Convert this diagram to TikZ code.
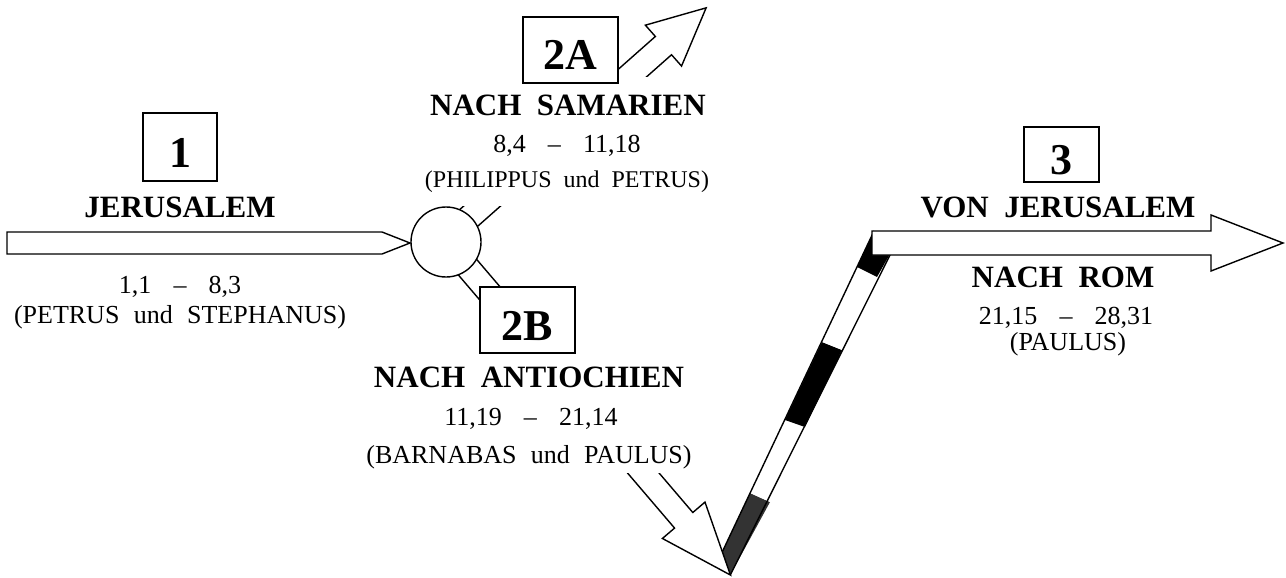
\documentclass[tikz,border=0pt]{standalone}
\usepackage{fontspec}
\setmainfont{Liberation Serif}
\newcommand\placefont{\fontsize{31}{31}\selectfont\bfseries\spaceskip=.5em\relax}
\newcommand\versefont{\fontsize{26}{26}\selectfont\spaceskip=.55em\relax}
\newcommand\smallversefont{\fontsize{24}{24}\selectfont\spaceskip=.5em\relax}
\newcommand\rangefont{\fontsize{26}{26}\selectfont\spaceskip=.85em\relax}
\newcommand\boxfont{\fontsize{44}{44}\selectfont\bfseries}
\begin{document}
\begin{tikzpicture}[x=1pt,y=-1pt,
  outline/.style={draw=black, line width=1.4pt, line join=miter, fill=white},
  numbox/.style={draw=black, line width=1.4pt, fill=white, inner sep=0pt,
    font=\boxfont, text height=40pt, text depth=0pt},
  placename/.style={anchor=base, inner sep=0pt, font=\placefont},
  versetext/.style={anchor=base, inner sep=0pt, font=\versefont},
  rangetext/.style={anchor=base, inner sep=0pt, font=\rangefont},
  edge/.style={line width=1.4pt},
]
\useasboundingbox (0,0) rectangle (1286,578);

% striped band of the journey up to the road to Rome
\coordinate (Lb) at (722.3,551.8);
\coordinate (L1) at (750,493);
\coordinate (L2) at (785,420);
\coordinate (L3) at (822,342);
\coordinate (L4) at (857,267);
\coordinate (Lt) at (874,231);
\coordinate (Rb) at (730.3,575);
\coordinate (R1) at (770,502);
\coordinate (R2) at (805,427);
\coordinate (R3) at (842,350);
\coordinate (R4) at (877,277);
\coordinate (Rt) at (895,245);
\fill[black!80] (Lb) -- (Rb) -- (R1) -- (L1) -- cycle;
\fill[white] (L1) -- (R1) -- (R2) -- (L2) -- cycle;
\fill[black] (L2) -- (R2) -- (R3) -- (L3) -- cycle;
\fill[white] (L3) -- (R3) -- (R4) -- (L4) -- cycle;
\fill[black] (L4) -- (R4) -- (Rt) -- (Lt) -- cycle;
\draw[edge] (Lb) -- (Lt) (Rb) -- (Rt);

% branch 2B, towards Antioch
\begin{scope}[shift={(446,242)}, rotate=-49.5]
  \draw[outline] (0,-12) -- (366,-12) -- (366,-28) -- (438,0) -- (366,28)
    -- (366,12) -- (0,12) -- cycle;
\end{scope}

% branch 2A, towards Samaria
\begin{scope}[shift={(446,242)}, rotate=41.5]
  \draw[outline] (0,-15.2) -- (293,-15.2) -- (293,-30.3) -- (350,-3)
    -- (293,24.3) -- (293,9.2) -- (0,9.2) -- cycle;
\end{scope}

% stage 1: Jerusalem
\draw[outline] (7,232) -- (382,232) -- (410,243) -- (382,254) -- (7,254) -- cycle;

% stage 3: from Jerusalem to Rome
\draw[outline] (872,231) -- (1211,231) -- (1211,215) -- (1283,243)
  -- (1211,271) -- (1211,255) -- (872,255) -- cycle;

% white ground behind the text blocks of the two branches
\fill[white] (422,77) rectangle (714,206);
\fill[white] (362,353) rectangle (700,473);

% junction
\node[circle, draw=black, line width=1.4pt, fill=white, minimum size=70pt,
  inner sep=0pt] (hub) at (446,242) {};

% stage numbers
\node[numbox, minimum width=74pt, minimum height=68pt] (b1) at (180,147) {1};
\node[numbox, minimum width=95pt, minimum height=66pt] (b2a) at (570.5,50) {2A};
\node[numbox, minimum width=95pt, minimum height=66pt] (b2b) at (527.5,320) {2B};
\node[numbox, minimum width=75pt, minimum height=55pt] (b3) at (1061.5,154.5) {3};

% stage 1 labels
\node[placename] (t1) at (180,217) {JERUSALEM};
\node[rangetext] (v1) at (180,293) {1,1 – 8,3};
\node[versetext] (p1) at (180,323) {(PETRUS und STEPHANUS)};

% stage 2A labels
\node[placename] (t2a) at (568,115) {NACH SAMARIEN};
\node[rangetext] (v2a) at (567,152) {8,4 – 11,18};
\node[versetext, font=\smallversefont] (p2a) at (567,187) {(PHILIPPUS und PETRUS)};

% stage 2B labels
\node[placename] (t2b) at (529,387) {NACH ANTIOCHIEN};
\node[rangetext] (v2b) at (531,425) {11,19 – 21,14};
\node[versetext] (p2b) at (529,463) {(BARNABAS und PAULUS)};

% stage 3 labels
\node[placename] (t3a) at (1058,217) {VON JERUSALEM};
\node[placename] (t3b) at (1063,287) {NACH ROM};
\node[rangetext] (v3) at (1066,324) {21,15 – 28,31};
\node[versetext] (p3) at (1068,350) {(PAULUS)};
\end{tikzpicture}
\end{document}
